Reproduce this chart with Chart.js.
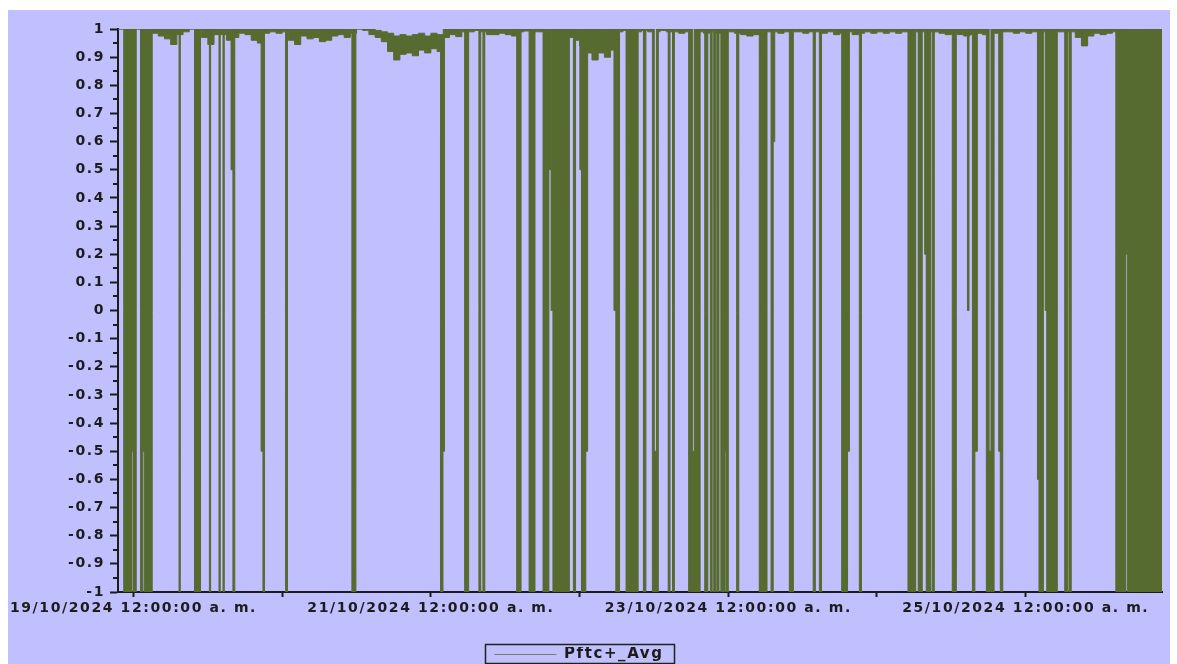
<!DOCTYPE html>
<html>
<head>
<meta charset="utf-8">
<title>Pftc+_Avg</title>
<script src="https://cdn.jsdelivr.net/npm/chart.js@4"></script>
<style>
  html, body { margin: 0; padding: 0; background: #ffffff; }
  #frame { position: absolute; left: 8px; top: 10px; width: 1162px; height: 654px; background: #c0c0ff; }
</style>
</head>
<body>
<div id="frame"><canvas id="pf"></canvas></div>
<script>
// Time is counted in hours from 19/10/2024 00:00.
const X_MIN = -2.5;   // 18/10/2024 21:30
const X_MAX = 166;    // 25/10/2024 22:00

const xTickHours  = [0, 24, 48, 72, 96, 120, 144];
const xTickLabels = ['19/10/2024 12:00:00 a. m.', '', '21/10/2024 12:00:00 a. m.', '',
                     '23/10/2024 12:00:00 a. m.', '', '25/10/2024 12:00:00 a. m.'];

const yTickValues = [1, 0.9, 0.8, 0.7, 0.6, 0.5, 0.4, 0.3, 0.2, 0.1, 0,
                     -0.1, -0.2, -0.3, -0.4, -0.5, -0.6, -0.7, -0.8, -0.9, -1];
const yTickLabels = ['1', '0.9', '0.8', '0.7', '0.6', '0.5', '0.4', '0.3', '0.2', '0.1', '0',
                     '-0.1', '-0.2', '-0.3', '-0.4', '-0.5', '-0.6', '-0.7', '-0.8', '-0.9', '-1'];

// Hourly minimum of the power factor while it stays near unity (hour -2 .. 166).
const BASE_FIRST_HOUR = -2;
const baseLow = [
  1, 1, 1, 1, 1, 0.985, 0.975, 0.965, 0.945, 0.98,
  0.99, 1, 0.99, 0.97, 0.945, 0.98, 0.98, 0.96, 0.97, 0.985,
  0.98, 0.96, 0.95, 0.985, 0.99, 0.985, 0.99, 0.96, 0.945, 0.975,
  0.965, 0.97, 0.955, 0.96, 0.975, 0.98, 0.97, 0.985, 1, 0.995,
  0.98, 0.97, 0.955, 0.92, 0.89, 0.91, 0.915, 0.905, 0.925, 0.915,
  0.93, 0.92, 0.97, 0.98, 0.973, 0.99, 0.99, 0.995, 0.99, 0.98,
  0.98, 0.985, 0.98, 0.975, 0.99, 0.993, 0.99, 0.99, 0.99, 0.99,
  0.99, 0.99, 0.97, 0.96, 0.94, 0.915, 0.89, 0.915, 0.9, 0.925,
  0.99, 0.995, 0.99, 0.99, 0.995, 0.99, 0.99, 0.995, 0.99, 0.99,
  0.985, 0.99, 0.99, 0.99, 0.985, 0.99, 0.985, 0.99, 0.99, 0.985,
  0.98, 0.975, 0.98, 0.99, 0.99, 0.99, 0.985, 0.99, 0.99, 0.99,
  0.985, 0.99, 0.99, 0.985, 0.99, 0.98, 0.985, 0.99, 0.98, 0.985,
  0.99, 0.985, 0.99, 0.985, 0.99, 0.985, 0.99, 0.99, 0.99, 0.99,
  0.99, 0.99, 0.985, 0.98, 0.985, 0.98, 0.975, 0.98, 0.985, 0.98,
  0.99, 0.985, 0.99, 0.99, 0.985, 0.99, 0.985, 0.99, 0.99, 0.99,
  0.99, 0.99, 0.99, 0.99, 0.97, 0.94, 0.975, 0.985, 0.98, 0.985,
  0.99, 1, 1, 1, 1, 1, 1, 1, 1
];

// Hourly maximum where it stays below unity (21/10 morning).
const capHours  = [38, 39, 40, 41, 42, 43, 44, 45, 46, 47, 48, 49, 50];
const capValues = [1, 0.995, 0.99, 0.985, 0.975, 0.98, 0.975, 0.98, 0.985, 0.975, 0.985, 0.98, 1];

// Sign swings: [from hour, to hour, lowest value, highest value].
const swings = [
  [-1.57, -0.24, -1, 1], [-0.24, 0, -0.5, 1], [0, 0.44, -1, 1],
  [1.13, 1.5, -1, 1], [1.5, 1.73, -0.5, 1], [1.73, 3.02, -1, 1],
  [7.35, 7.55, -1, 1], [9.85, 10.82, -1, 1], [12.25, 12.45, -1, 1],
  [13.8, 14.0, -1, 1], [14.45, 14.65, -1, 1],
  [15.75, 16.05, 0.5, 1], [16.05, 16.35, -1, 1],
  [20.6, 20.9, -0.5, 1], [20.9, 21.15, -1, 1],
  [24.55, 24.85, -1, 1], [35.25, 35.9, -1, 1],
  [49.55, 49.95, -1, 1], [49.95, 50.2, -0.5, 1],
  [53.45, 54.1, -1, 1], [55.75, 56.05, -1, 1], [56.4, 56.7, -1, 1],
  [61.85, 62.55, -1, 1], [63.85, 64.8, -1, 1], [66.1, 67.05, -1, 1],
  [67.05, 67.3, 0.5, 1], [67.4, 67.7, 0, 1],
  [67.7, 70.35, -1, 1], [71.0, 71.35, -1, 1],
  [72.05, 72.3, 0.5, 1], [72.3, 73.0, -1, 1], [73.0, 73.3, -0.5, 1],
  [77.55, 77.85, 0, 1],
  [77.85, 78.45, -1, 1], [79.5, 81.45, -1, 1], [82.3, 82.7, -1, 1],
  [83.75, 84.05, -1, 1], [84.05, 84.4, -1, -0.5], [84.4, 84.7, -1, 1],
  [86.3, 86.6, -1, 1], [87.0, 87.3, -1, 1],
  [89.6, 90.2, -1, 1], [90.2, 90.5, -1, -0.5], [90.5, 91.45, -1, 1],
  [92.2, 92.7, -1, 1], [93.1, 93.4, -1, 1], [93.65, 93.95, -1, 1], [94.15, 94.5, -1, 1],
  [94.8, 95.5, -1, 1], [95.5, 95.7, -0.5, 1], [95.7, 96.0, -1, 1],
  [97.35, 97.7, -1, 1], [101.0, 102.25, -1, 1], [102.9, 103.25, -1, 1], [103.25, 103.5, 0.6, 1],
  [105.85, 106.5, -1, 1], [109.7, 110.05, -1, 1], [110.7, 111.05, -1, 1],
  [114.3, 115.25, -1, 1], [115.25, 115.55, -0.5, 1], [117.15, 117.5, -1, 1],
  [125.0, 126.25, -1, 1], [126.65, 127.3, -1, 1], [127.7, 127.95, 0.2, 1],
  [127.95, 128.65, -1, 1], [128.9, 129.25, -1, 1],
  [132.15, 132.8, -1, 1], [134.6, 134.85, 0, 1], [135.4, 135.8, -1, 1], [135.8, 136.2, -0.5, 1],
  [137.65, 138.1, -1, 1], [138.1, 138.4, -1, -0.5], [138.4, 138.9, -1, 1],
  [139.65, 139.9, -0.5, 1], [139.9, 140.3, -1, 1],
  [145.9, 146.15, -0.6, 1], [146.15, 146.85, -1, 1],
  [147.15, 147.4, 0, 1],
  [147.4, 149.1, -1, 1], [150.3, 150.8, -1, 1], [151.0, 151.35, -1, 1],
  [158.55, 160.15, -1, 1], [160.15, 160.4, 0.2, 1], [160.4, 166, -1, 1]
];

const SERIES_NAME = 'Pftc+_Avg';
const OLIVE = '#566b2f';
const INK = '#1c1c1c';

// ---- build the upper / lower envelope of the trace ----
function baseAt(t) {
  const i = Math.min(baseLow.length - 1, Math.max(0, Math.floor(t) - BASE_FIRST_HOUR));
  return baseLow[i];
}
function capAt(t) {
  let v = 1;
  for (let i = 0; i < capHours.length; i++) if (capHours[i] <= t) v = capValues[i];
  return v;
}
function swingAt(t) {
  for (const s of swings) if (t >= s[0] && t < s[1]) return s;
  return null;
}
const marks = new Set([X_MIN, X_MAX]);
for (let h = Math.ceil(X_MIN); h < X_MAX; h++) marks.add(h);
capHours.forEach(h => marks.add(h));
swings.forEach(s => { marks.add(s[0]); marks.add(s[1]); });
const times = [...marks].filter(t => t >= X_MIN && t <= X_MAX).sort((a, b) => a - b);

// each value holds from its own time up to the next time
const highPts = [], lowPts = [];
for (const t of times) {
  let lo = baseAt(t), hi = capAt(t);
  const s = swingAt(t);
  if (s) { lo = s[2]; hi = Math.min(hi, s[3]); }
  highPts.push({ x: t, y: hi });
  lowPts.push({ x: t, y: lo });
}

// ---- drawing helpers ----
const TEXT_SPACING = '1.6px';
const axisDecor = {
  id: 'axisDecor',
  beforeUpdate(chart) { chart.ctx.letterSpacing = TEXT_SPACING; },
  beforeDraw(chart) { chart.ctx.letterSpacing = TEXT_SPACING; },
  afterLayout(chart) {
    const lg = chart.legend;
    if (lg) { lg.top += 8; lg.bottom += 8; lg.left -= 6; lg.right -= 6; }
  },
  afterDraw(chart) {
    const ctx = chart.ctx, y = chart.scales.y;
    ctx.save();
    // minor ticks half-way between the labelled ones
    ctx.strokeStyle = INK;
    ctx.lineWidth = 2;
    for (let i = 0; i < yTickValues.length - 1; i++) {
      const py = Math.round(y.getPixelForValue((yTickValues[i] + yTickValues[i + 1]) / 2));
      ctx.beginPath();
      ctx.moveTo(y.right - 5, py);
      ctx.lineTo(y.right, py);
      ctx.stroke();
    }
    // frame round the legend entry
    const hb = chart.legend && chart.legend.legendHitBoxes[0];
    if (hb) {
      ctx.lineWidth = 1.5;
      ctx.strokeStyle = '#202020';
      ctx.strokeRect(Math.round(hb.left) - 8.5, Math.round(hb.top) - 2.5, Math.round(hb.width) + 20, Math.round(hb.height) + 4);
    }
    ctx.restore();
  }
};

Chart.defaults.font.family = "'DejaVu Sans', sans-serif";
Chart.defaults.font.size = 14;
Chart.defaults.font.weight = 'bold';
Chart.defaults.color = INK;

new Chart(document.getElementById('pf'), {
  type: 'line',
  data: {
    datasets: [
      {
        label: SERIES_NAME,
        data: highPts,
        stepped: 'before',
        borderColor: OLIVE,
        borderWidth: 1,
        pointRadius: 0,
        fill: false
      },
      {
        label: SERIES_NAME + ' min',
        data: lowPts,
        stepped: 'before',
        borderColor: OLIVE,
        backgroundColor: OLIVE,
        borderWidth: 1,
        pointRadius: 0,
        fill: '-1'
      }
    ]
  },
  options: {
    responsive: true,
    maintainAspectRatio: false,
    animation: false,
    events: [],
    layout: { padding: { top: 19, right: 8, left: 0, bottom: 0 } },
    scales: {
      x: {
        type: 'linear',
        min: X_MIN,
        max: X_MAX,
        afterBuildTicks(scale) { scale.ticks = xTickHours.map(v => ({ value: v })); },
        afterFit(scale) { scale.height = 47; scale.paddingLeft = 0; scale.paddingRight = 0; },
        grid: { drawOnChartArea: false, drawTicks: true, tickLength: 5, tickWidth: 2, tickColor: INK },
        border: { display: true, color: INK, width: 2 },
        ticks: {
          autoSkip: false,
          maxRotation: 0,
          padding: 3,
          color: INK,
          callback: (v, i) => xTickLabels[i]
        }
      },
      y: {
        min: -1,
        max: 1,
        afterBuildTicks(scale) { scale.ticks = yTickValues.map(v => ({ value: v })); },
        afterFit(scale) { scale.width = 110; },
        grid: { drawOnChartArea: false, drawTicks: true, tickLength: 8, tickWidth: 2, tickColor: INK },
        border: { display: true, color: INK, width: 2 },
        ticks: {
          autoSkip: false,
          padding: 5,
          color: INK,
          callback: (v, i) => yTickLabels[i]
        }
      }
    },
    plugins: {
      tooltip: { enabled: false },
      legend: {
        position: 'bottom',
        labels: {
          padding: 0,
          boxWidth: 62,
          boxHeight: 1,
          color: INK,
          font: { size: 15 },
          generateLabels: () => [{
            text: SERIES_NAME,
            fillStyle: '#72825c',
            strokeStyle: 'rgba(0,0,0,0)',
            lineWidth: 0,
            fontColor: INK,
            datasetIndex: 0,
            hidden: false
          }]
        }
      }
    }
  },
  plugins: [axisDecor]
});
</script>
</body>
</html>
